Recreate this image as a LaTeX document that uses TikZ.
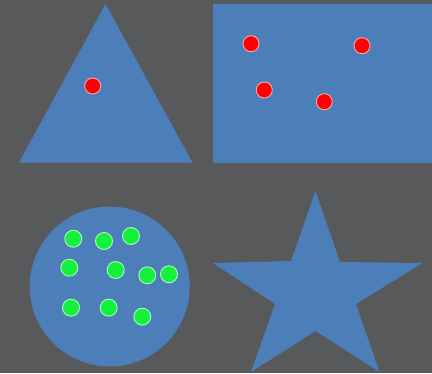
\documentclass[tikz,border=0pt]{standalone}
\usepackage{tikz}

\begin{document}
\begin{tikzpicture}[
	x=1pt,y=-1pt,
	shapefill/.style={fill=shapeblue,draw=none},
	rdot/.style={circle,fill=red,draw=white!65!red,line width=0.9pt,inner sep=0pt,minimum size=16pt},
	gdot/.style={circle,fill=dotgreen,draw=white!65!dotgreen,line width=0.9pt,inner sep=0pt,minimum size=17pt}
	]
	\definecolor{bggray}{HTML}{58595B}
	\definecolor{shapeblue}{HTML}{4C7EB9}
	\definecolor{dotgreen}{HTML}{14F03C}
	\fill[bggray] (0,0) rectangle (432,373);
	\useasboundingbox (0,0) rectangle (432,373);
	% shapes
	\path[shapefill] (105.5,4) -- (192.5,162.5) -- (19,162.5) -- cycle;
	\path[shapefill] (213,3.5) rectangle (432,162.5);
	\path[shapefill] (109.7,286.5) circle (80);
	\path[shapefill] (315.5,191) -- (340,262) -- (422.5,263) -- (356,304) -- (379.5,372)
		-- (315.5,331) -- (251,372) -- (275,304) -- (213,263) -- (291,261) -- cycle;
	% dots
	\foreach \i/\x/\y in {1/92.7/86,2/251/43.7,3/362/45.7,4/264.3/90,5/324.3/101.7}{
		\node[rdot] (r\i) at (\x,\y) {};
	}
	\foreach \i/\x/\y in {1/73.3/238.7,2/104/241,3/131/236,4/69.3/267.7,5/115.7/270,6/147.3/275.3,7/169/274.3,8/71/307.7,9/108.7/307.7,10/142.3/316.7}{
		\node[gdot] (g\i) at (\x,\y) {};
	}
\end{tikzpicture}
\end{document}
